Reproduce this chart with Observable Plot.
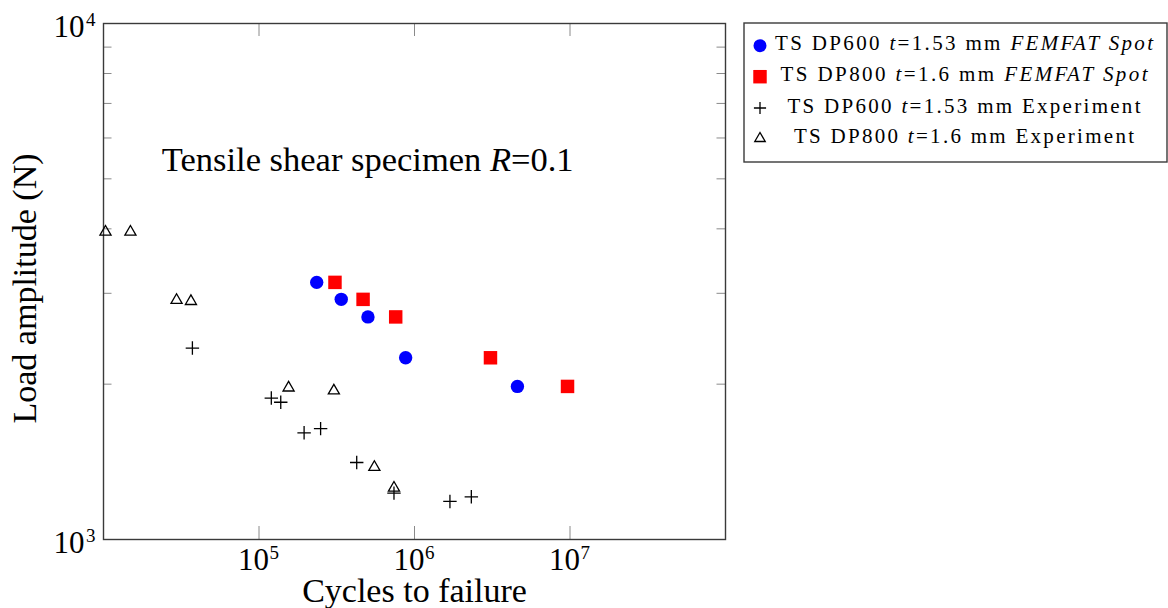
<!DOCTYPE html>
<html>
<head>
<meta charset="utf-8">
<script src="https://cdn.jsdelivr.net/npm/d3@7"></script>
<script src="https://cdn.jsdelivr.net/npm/@observablehq/plot@0.6"></script>
<style>
  body { margin: 0; background: #fff; }
  #wrap { position: relative; width: 1168px; height: 608px; overflow: hidden; }
  #wrap svg text { white-space: pre; }
</style>
</head>
<body>
<div id="wrap"></div>
<script>
// ---------- data (cycles to failure, load amplitude in N) ----------
const dp600FemfatCycles = [2.35e5, 3.38e5, 5.02e5, 8.77e5, 4.59e6];
const dp600FemfatLoads  = [3150, 2920, 2700, 2250, 1980];

const dp800FemfatCycles = [3.08e5, 4.67e5, 7.57e5, 3.08e6, 9.64e6];
const dp800FemfatLoads  = [3150, 2920, 2700, 2250, 1980];

const dp600ExpCycles = [3.73e4, 1.2e5, 1.38e5, 1.95e5, 2.49e5, 4.25e5, 7.38e5, 1.69e6, 2.32e6];
const dp600ExpLoads  = [2350, 1880, 1845, 1610, 1640, 1410, 1230, 1185, 1210];

const dp800ExpCycles = [1.03e4, 1.49e4, 2.95e4, 3.65e4, 1.55e5, 3.03e5, 5.52e5, 7.38e5];
const dp800ExpLoads  = [3945, 3945, 2910, 2895, 1968, 1942, 1381, 1259];

const legendLabels = [
  "TS DP600 |t|=1.53 mm |FEMFAT Spot|",
  "TS DP800 |t|=1.6 mm |FEMFAT Spot|",
  "TS DP600 |t|=1.53 mm Experiment",
  "TS DP800 |t|=1.6 mm Experiment"
];

const xDomain = [1e4, 1e8];
const yDomain = [1e3, 1e4];
const xMajorTicks = [1e5, 1e6, 1e7];
const yMinorTicks = [2000, 3000, 4000, 5000, 6000, 7000, 8000, 9000];
const yLabelTicks = [1e3, 1e4];

const xLabel = "Cycles to failure";
const yLabel = "Load amplitude (N)";
const annotationText = "Tensile shear specimen |R|=0.1";
const annotationCycles = 5.0e5;
const annotationLoad = 5450;

// ---------- layout ----------
const serif = '"Liberation Serif", "Tinos", "DejaVu Serif", serif';
const W = 1168, H = 608;
const mL = 103, mR = 443, mT = 23, mB = 69;
const innerW = W - mL - mR, innerH = H - mT - mB;
const tickColor = "#8a8a8a";
const frameColor = "#3a3a3a";

const rows = (xs, ys) => xs.map((x, i) => ({cycles: x, load: ys[i]}));
const exponent = d => String(Math.round(Math.log10(d)));
const T = {lineAnchor: "middle", fontFamily: serif};

const plot = Plot.plot({
  width: W, height: H,
  marginLeft: mL, marginRight: mR, marginTop: mT, marginBottom: mB,
  x: {type: "log", domain: xDomain, axis: null},
  y: {type: "log", domain: yDomain, axis: null},
  style: {fontFamily: serif, background: "white", color: "black"},
  marks: [
    // inward ticks
    Plot.ruleX(xMajorTicks, {x: d => d, insetTop: innerH - 13, stroke: tickColor, strokeWidth: 1}),
    Plot.ruleX(xMajorTicks, {x: d => d, insetBottom: innerH - 13, stroke: tickColor, strokeWidth: 1}),
    Plot.ruleY(yMinorTicks, {y: d => d, insetRight: innerW - 8.5, stroke: tickColor, strokeWidth: 1}),
    Plot.ruleY(yMinorTicks, {y: d => d, insetLeft: innerW - 8.5, stroke: tickColor, strokeWidth: 1}),
    Plot.frame({stroke: frameColor, strokeWidth: 1.4}),
    // tick labels (10 with superscript exponent)
    Plot.text(xMajorTicks, {...T, x: d => d, frameAnchor: "bottom", text: () => "10", textAnchor: "start", dx: -21, dy: 21, fontSize: 31}),
    Plot.text(xMajorTicks, {...T, x: d => d, frameAnchor: "bottom", text: exponent, textAnchor: "start", dx: 10.5, dy: 13.3, fontSize: 19}),
    Plot.text(yLabelTicks, {...T, y: d => d, frameAnchor: "left", text: () => "10", textAnchor: "end", dx: -19, dy: 4, fontSize: 31}),
    Plot.text(yLabelTicks, {...T, y: d => d, frameAnchor: "left", text: exponent, textAnchor: "end", dx: -8, dy: -3.7, fontSize: 19}),
    // axis labels
    Plot.text([xLabel], {...T, frameAnchor: "bottom", text: d => d, textAnchor: "middle", dy: 52, fontSize: 34}),
    Plot.text([yLabel], {...T, frameAnchor: "left", text: d => d, textAnchor: "middle", rotate: -90, dx: -78, dy: 7, fontSize: 34}),
    // annotation
    Plot.text([annotationText], {...T, x: () => annotationCycles, y: () => annotationLoad, text: d => d, fontSize: 34.5}),
    // data
    Plot.dot(rows(dp600ExpCycles, dp600ExpLoads), {x: "cycles", y: "load", symbol: "plus", r: 4.4, stroke: "black", strokeWidth: 1.3}),
    Plot.dot(rows(dp800ExpCycles, dp800ExpLoads), {x: "cycles", y: "load", symbol: "triangle2", r: 5.3, stroke: "black", strokeWidth: 1.3, fill: "none"}),
    Plot.dot(rows(dp600FemfatCycles, dp600FemfatLoads), {x: "cycles", y: "load", symbol: "circle", r: 6.7, fill: "#0000ff", stroke: "none"}),
    Plot.dot(rows(dp800FemfatCycles, dp800FemfatLoads), {x: "cycles", y: "load", symbol: "square", r: 7.6, fill: "#ff0000", stroke: "none"})
  ]
});

document.getElementById("wrap").appendChild(plot);

function richText(el, s) {
  const parts = s.split("|");
  while (el.firstChild) el.removeChild(el.firstChild);
  parts.forEach((p, i) => {
    if (!p) return;
    const t = document.createElementNS("http://www.w3.org/2000/svg", "tspan");
    t.textContent = p;
    if (i % 2) t.setAttribute("font-style", "italic");
    el.appendChild(t);
  });
}

d3.select(plot).selectAll("text").each(function() {
  if (this.textContent === annotationText) richText(this, annotationText);
});

// ---------- legend (right of the axes) ----------
const leg = d3.select("#wrap").append("svg")
  .attr("width", W).attr("height", H)
  .style("position", "absolute").style("left", "0px").style("top", "0px")
  .attr("font-family", serif);

const legX = 744, legY = 23, legW = 423, legH = 139;
leg.append("rect").attr("x", legX).attr("y", legY).attr("width", legW).attr("height", legH)
  .attr("fill", "white").attr("stroke", frameColor).attr("stroke-width", 1.4);

const legendStyles = [
  {type: d3.symbolCircle, r: 6.5, fill: "#0000ff", stroke: "none"},
  {type: d3.symbolSquare, r: 7.6, fill: "#ff0000", stroke: "none"},
  {type: d3.symbolPlus, r: 4.0, fill: "none", stroke: "black"},
  {type: d3.symbolTriangle2, r: 5.0, fill: "none", stroke: "black"}
];
const legendRowY = [45.7, 76.7, 108, 138.5];
const legendTextWidth = [378, 367, 353, 340];

legendLabels.forEach((label, i) => {
  const s = legendStyles[i];
  leg.append("path")
    .attr("d", d3.symbol().type(s.type).size(Math.PI * s.r * s.r)())
    .attr("transform", `translate(760,${legendRowY[i]})`)
    .attr("fill", s.fill).attr("stroke", s.stroke).attr("stroke-width", 1.3);
  const t = leg.append("text")
    .attr("x", 964).attr("y", legendRowY[i] + 4.5)
    .attr("text-anchor", "middle")
    .attr("font-family", serif)
    .attr("font-size", 21)
    .attr("textLength", legendTextWidth[i])
    .attr("lengthAdjust", "spacing");
  richText(t.node(), label);
});
</script>
</body>
</html>
